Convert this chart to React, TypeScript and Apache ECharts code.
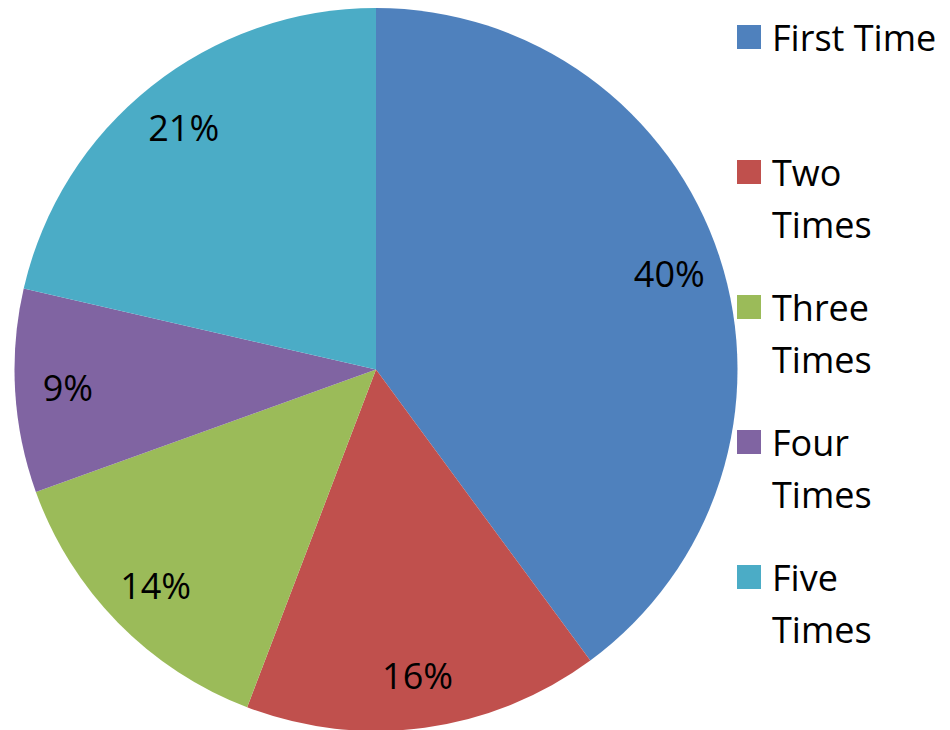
import React, { useEffect, useRef } from "react";
import * as echarts from "echarts";

const categories = ["First Time", "Two Times", "Three Times", "Four Times", "Five Times"];
const values = [39.9, 15.9, 13.7, 9.1, 21.4];
const colors = ["#4F81BD", "#C0504D", "#9BBB59", "#8064A2", "#4BACC6"];

const FONT = "'Open Sans', 'Liberation Sans', sans-serif";

function legendLabel(name: string): string {
  if (name === "First Time") return " \n" + name + "\n ";
  const parts = name.split(" ");
  return " \n" + parts[0] + "\n" + parts.slice(1).join(" ");
}

export default function App() {
  const ref = useRef<HTMLDivElement>(null);
  useEffect(() => {
    if (!ref.current) return;
    const chart = echarts.init(ref.current, undefined, { renderer: "svg" });
    const data = categories.map((name, i) => ({ name, value: values[i], itemStyle: { color: colors[i] } }));
    chart.setOption({
      animation: false,
      legend: {
        orient: "vertical",
        left: 737,
        top: -41,
        icon: "rect",
        itemWidth: 24,
        itemHeight: 24,
        itemGap: -21,
        padding: 0,
        selectedMode: false,
        formatter: legendLabel,
        textStyle: {
          fontFamily: FONT,
          fontSize: 36,
          lineHeight: 52,
          color: "#000",
          padding: [0, 0, 0, 6],
        },
        data: categories,
      },
      series: [
        {
          type: "pie",
          center: [376, 369.5],
          radius: [0, 361.5],
          startAngle: 90,
          clockwise: true,
          silent: true,
          label: { show: false },
          labelLine: { show: false },
          data,
        },
        {
          type: "pie",
          center: [376, 369.5],
          radius: [250, 361.5],
          startAngle: 90,
          clockwise: true,
          silent: true,
          itemStyle: { color: "transparent" },
          label: {
            show: true,
            position: "inside",
            fontFamily: FONT,
            fontSize: 36,
            color: "#000",
            formatter: (p: any) => Math.round(p.percent) + "%",
          },
          labelLine: { show: false },
          data: categories.map((name, i) => ({ name, value: values[i] })),
        },
      ],
    });
    return () => chart.dispose();
  }, []);
  return (
    <div
      ref={ref}
      style={{ position: "fixed", left: 0, top: 0, width: 950, height: 730, background: "#fff" }}
    />
  );
}
